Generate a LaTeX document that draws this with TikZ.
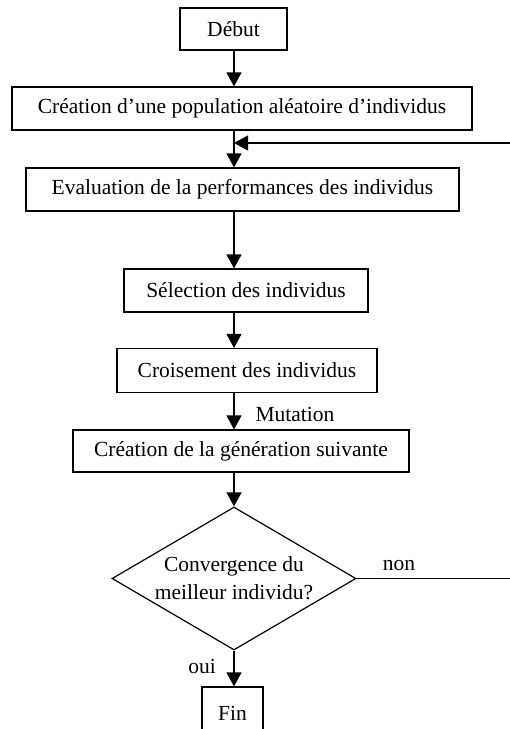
\documentclass[tikz,border=0pt]{standalone}
\usepackage{fontspec}
\setmainfont{Liberation Serif}
\usetikzlibrary{shapes.geometric,arrows.meta}

\tikzset{
  etape/.style={draw, line width=1.2pt, inner sep=0pt, minimum height=43pt},
  fleche/.style={line width=1.2pt, -{Triangle[length=14pt,width=15pt]}},
}

\begin{document}
\begin{tikzpicture}[x=1pt, y=-1pt, font=\fontsize{21.5}{25}\selectfont]
\clip (0,0) rectangle (510,729);

\coordinate (axe) at (234,0);

\node[etape, minimum width=107pt, minimum height=42pt] (debut) at (233.5,29) {Début};

\node[etape, minimum width=460pt] (creation) at (242,108.5) {Création d’une population aléatoire d’individus};

\node[etape, minimum width=433pt] (evaluation) at (242.5,189.5) {Evaluation de la performances des individus};

\node[etape, minimum width=244pt] (selection) at (246,290.5) {Sélection des individus};

\node[etape, minimum width=260pt, minimum height=44pt] (croisement) at (247,370.5) {Croisement des individus};

\node[etape, minimum width=336pt, minimum height=42pt] (generation) at (241,451) {Création de la génération suivante};

\node[draw, diamond, aspect=1.7, line width=1.2pt, inner sep=0pt, minimum width=244pt, minimum height=143pt, align=center, font=\fontsize{21.5}{28}\selectfont] (test) at (234,578.5) {Convergence du\\meilleur individu?};

\node[etape, minimum width=61pt, minimum height=52pt] (fin) at (232.5,713) {Fin};% coupe en bas

\node (mutation) at (295,414) {Mutation};
\node (non) at (399,566) {non};
\node (oui) at (202,666) {oui};

\draw[fleche] (debut.south -| axe) -- (creation.north -| axe);
\draw[fleche] (creation.south -| axe) -- (evaluation.north -| axe);
\draw[fleche] (evaluation.south -| axe) -- (selection.north -| axe);
\draw[fleche] (selection.south -| axe) -- (croisement.north -| axe);
\draw[fleche] (croisement.south -| axe) -- (generation.north -| axe);
\draw[fleche] (generation.south -| axe) -- (test.north);
\draw[fleche] (test.south) -- (fin.north -| test.south);

% boucle de retour
\coordinate (retour) at (510,143);
\draw[fleche] (retour) -- (retour -| axe);
\coordinate (sortie) at (510,578.5);
\draw[line width=1.2pt] (test.east) -- (sortie);
\end{tikzpicture}
\end{document}
